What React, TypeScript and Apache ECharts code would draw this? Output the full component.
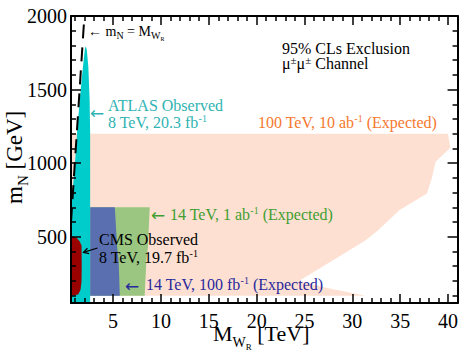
import React, { useEffect, useRef } from 'react';
import * as echarts from 'echarts';

// ---------- axis ranges & ticks ----------
const X_MIN = 0.6;
const X_MAX = 41;
const Y_MIN = 50;
const Y_MAX = 2000;
const xMajorTicks = [5, 10, 15, 20, 25, 30, 35, 40];
const xMinorTicks = [1, 2, 3, 4, 6, 7, 8, 9, 11, 12, 13, 14, 16, 17, 18, 19, 21, 22, 23, 24, 26, 27, 28, 29, 31, 32, 33, 34, 36, 37, 38, 39];
const yMajorTicks = [500, 1000, 1500, 2000];
const yMinorTicks = [100, 200, 300, 400, 600, 700, 800, 900, 1100, 1200, 1300, 1400, 1600, 1700, 1800, 1900];

// ---------- exclusion regions [M_WR (TeV), m_N (GeV)] ----------
const fcc100TeV10ab: [number, number][] = [
  [0.6, 100], [0.6, 1200], [40.0, 1200], [40.24, 1105], [38.7, 1010], [38.3, 896],
  [37.8, 794], [34.9, 680], [32.7, 544], [31.4, 476], [28.5, 360], [25.1, 226],
  [24.4, 200], [27.5, 150], [31.4, 100],
];
const lhc14TeV1ab: [number, number][] = [
  [2.6, 100], [2.6, 700], [8.83, 700], [8.75, 592], [8.65, 432], [8.48, 342],
  [8.41, 246], [8.3, 100],
];
const lhc14TeV100fb: [number, number][] = [
  [2.6, 100], [2.6, 700], [5.18, 700], [5.28, 592], [5.42, 432], [5.57, 342],
  [5.63, 246], [5.7, 100],
];
const atlas8TeV: [number, number][] = [
  [0.6, 50], [2.6, 50], [2.6, 1204], [2.55, 1430], [2.41, 1656], [2.25, 1770],
  [2.14, 1795], [2.05, 1775], [1.85, 1656], [1.51, 1430], [1.23, 1204],
  [0.99, 976], [0.78, 817], [0.6, 650],
];
const cms8TeV: [number, number][] = [
  [0.6, 100], [0.6, 500], [0.85, 500], [1.2, 492], [1.5, 470], [1.7, 440],
  [1.72, 300], [1.7, 200], [1.6, 140], [1.35, 108],
];
const diagonal: [number, number][] = [[0.6, 600], [2.0, 2000]];

const FONT = 'Liberation Serif';
const ARROW_FONT = 'DejaVu Sans';

type Piece = { t: string; s: number; dy?: number; f?: string; lh?: number };

let ctx: CanvasRenderingContext2D | null = null;
function measure(text: string, size: number, fam: string): number {
  if (!ctx) ctx = document.createElement('canvas').getContext('2d');
  if (!ctx) return text.length * size * 0.5;
  ctx.font = `${size}px ${fam}`;
  return ctx.measureText(text).width;
}

function textLine(x: number, baseline: number, pieces: Piece[], color: string, lhScale = 0.85): any[] {
  let cx = x;
  return pieces.map((p) => {
    const fam = p.f || FONT;
    const el = {
      type: 'text',
      x: cx,
      y: baseline + (p.dy || 0) - 0.34 * p.s,
      z: 100,
      silent: true,
      style: {
        text: p.t,
        fill: color,
        fontSize: p.s,
        fontFamily: fam,
        lineHeight: Math.round(p.s * (p.lh || lhScale)),
        align: 'left',
        verticalAlign: 'middle',
      },
    };
    cx += measure(p.t, p.s, fam);
    return el;
  });
}

function polySeries(name: string, pts: [number, number][], color: string) {
  return {
    type: 'custom',
    name,
    xAxisIndex: 0,
    yAxisIndex: 0,
    silent: true,
    clip: true,
    z: 2,
    data: [pts[0]],
    renderItem: (_params: any, api: any) => ({
      type: 'polygon',
      shape: { points: pts.map((p) => api.coord(p)) },
      style: { fill: color, stroke: 'none' },
    }),
  };
}

export default function App() {
  const ref = useRef<HTMLDivElement>(null);

  useEffect(() => {
    if (!ref.current) return;
    const chart = echarts.init(ref.current, undefined, { renderer: 'svg' });

    const axisLine = { show: true, lineStyle: { color: '#000', width: 2 } };
    const tickStyle = { color: '#000', width: 1.5 };
    const fmt = (v: number) => String(v);
    const xAx = (pos: string, major: boolean, labels: boolean, line: boolean) => ({
      type: 'value',
      position: pos,
      min: X_MIN,
      max: X_MAX,
      z: 10,
      axisLine: line ? axisLine : { show: false },
      splitLine: { show: false },
      axisTick: {
        show: true,
        inside: true,
        length: major ? 9 : 5,
        customValues: major ? xMajorTicks : xMinorTicks,
        lineStyle: tickStyle,
      },
      axisLabel: labels
        ? { show: true, customValues: xMajorTicks, formatter: fmt, fontSize: 20, lineHeight: 13, fontFamily: FONT, color: '#000', margin: 11 }
        : { show: false },
    });
    const yAx = (pos: string, major: boolean, labels: boolean, line: boolean) => ({
      type: 'value',
      position: pos,
      min: Y_MIN,
      max: Y_MAX,
      z: 10,
      axisLine: line ? axisLine : { show: false },
      splitLine: { show: false },
      axisTick: {
        show: true,
        inside: true,
        length: major ? 10 : 5,
        customValues: major ? yMajorTicks : yMinorTicks,
        lineStyle: tickStyle,
      },
      axisLabel: labels
        ? { show: true, customValues: yMajorTicks, formatter: fmt, fontSize: 20, fontFamily: FONT, color: '#000', margin: 4 }
        : { show: false },
    });

    // CMS arrow
    const tail = [97.5, 248];
    const head = [83.5, 252.4];
    const dx = head[0] - tail[0];
    const dy = head[1] - tail[1];
    const len = Math.hypot(dx, dy);
    const ux = dx / len, uy = dy / len;
    const nx = -uy, ny = ux;
    const wing1 = [head[0] - 5 * ux + 2.8 * nx, head[1] - 5 * uy + 2.8 * ny];
    const wing2 = [head[0] - 5 * ux - 2.8 * nx, head[1] - 5 * uy - 2.8 * ny];

    const graphics: any[] = [
      ...textLine(88, 36, [
        { t: '\u2190 m', s: 14 }, { t: 'N', s: 10, dy: 3 }, { t: ' = M', s: 14 },
        { t: 'W', s: 10, dy: 3 }, { t: 'R', s: 6, dy: 5 },
      ], '#000'),
      ...textLine(282, 53.5, [{ t: '95% CLs Exclusion', s: 16 }], '#000', 0.75),
      ...textLine(282, 68.5, [
        { t: '\u03bc', s: 16 }, { t: '\u00b1', s: 11, dy: -5 }, { t: '\u03bc', s: 16 },
        { t: '\u00b1', s: 11, dy: -5 }, { t: ' Channel', s: 16 },
      ], '#000', 0.75),
      ...textLine(258, 127.5, [
        { t: '100 TeV, 10 ab', s: 16 }, { t: '-1', s: 10, dy: -6 }, { t: ' (Expected)', s: 16 },
      ], '#f5782d'),
      ...textLine(90, 118.5, [{ t: '\u2190', s: 17, f: ARROW_FONT }], '#2fb3b3'),
      ...textLine(108, 110.7, [{ t: 'ATLAS Observed', s: 16 }], '#2fb3b3', 0.8),
      ...textLine(108, 128.3, [{ t: '8 TeV, 20.3 fb', s: 16 }, { t: '-1', s: 10, dy: -6 }], '#2fb3b3', 0.8),
      ...textLine(151, 220.5, [{ t: '\u2190', s: 17, f: ARROW_FONT }], '#3f9e30'),
      ...textLine(170, 219.5, [
        { t: '14 TeV, 1 ab', s: 16 }, { t: '-1', s: 10, dy: -6 }, { t: ' (Expected)', s: 16 },
      ], '#3f9e30'),
      ...textLine(99, 245, [{ t: 'CMS Observed', s: 16 }], '#000', 0.8),
      ...textLine(99, 262.7, [{ t: '8 TeV, 19.7 fb', s: 16 }, { t: '-1', s: 10, dy: -6 }], '#000', 0.8),
      {
        type: 'line', silent: true, z: 100,
        shape: { x1: tail[0], y1: tail[1], x2: head[0], y2: head[1] },
        style: { stroke: '#000', lineWidth: 1.2 },
      },
      {
        type: 'polyline', silent: true, z: 100,
        shape: { points: [wing1, head, wing2] },
        style: { stroke: '#000', lineWidth: 1.2, fill: 'none' },
      },
      ...textLine(125, 291.5, [{ t: '\u2190', s: 17, f: ARROW_FONT }], '#28289c'),
      ...textLine(146, 289.5, [
        { t: '14 TeV, 100 fb', s: 16 }, { t: '-1', s: 10, dy: -6 }, { t: ' (Expected)', s: 16 },
      ], '#28289c'),
      // axis titles
      ...textLine(213, 341, [
        { t: 'M', s: 22 }, { t: 'W', s: 14, dy: 6 }, { t: 'R', s: 9, dy: 9 }, { t: ' [TeV]', s: 22 },
      ], '#000', 0.6),
      {
        type: 'group',
        x: 22,
        y: 204,
        z: 100,
        rotation: Math.PI / 2,
        children: textLine(0, 0, [
          { t: 'm', s: 23 }, { t: 'N', s: 15, dy: 6 }, { t: ' [GeV]', s: 23 },
        ], '#000'),
      },
    ];

    chart.setOption({
      animation: false,
      backgroundColor: '#fff',
      grid: { left: 71, right: 2, top: 16, bottom: 49, containLabel: false },
      xAxis: [
        xAx('bottom', true, true, true),
        xAx('bottom', false, false, false),
        xAx('top', true, false, true),
        xAx('top', false, false, false),
      ],
      yAxis: [
        yAx('left', true, true, true),
        yAx('left', false, false, false),
        yAx('right', true, false, true),
        yAx('right', false, false, false),
      ],
      series: [
        polySeries('100 TeV, 10 ab-1 (Expected)', fcc100TeV10ab, '#fee0d2'),
        polySeries('14 TeV, 1 ab-1 (Expected)', lhc14TeV1ab, '#9ac681'),
        polySeries('14 TeV, 100 fb-1 (Expected)', lhc14TeV100fb, '#5a6fb0'),
        polySeries('ATLAS Observed', atlas8TeV, '#00cccc'),
        polySeries('CMS Observed', cms8TeV, '#990000'),
        {
          type: 'line',
          name: 'mN = MWR',
          xAxisIndex: 0,
          yAxisIndex: 0,
          data: diagonal,
          symbol: 'none',
          silent: true,
          z: 3,
          lineStyle: { color: '#000', width: 2, type: [14, 9] },
        },
      ],
      graphic: graphics,
    });

    return () => chart.dispose();
  }, []);

  return (
    <div
      ref={ref}
      style={{ position: 'fixed', left: 0, top: 0, width: 461, height: 352, background: '#fff' }}
    />
  );
}
